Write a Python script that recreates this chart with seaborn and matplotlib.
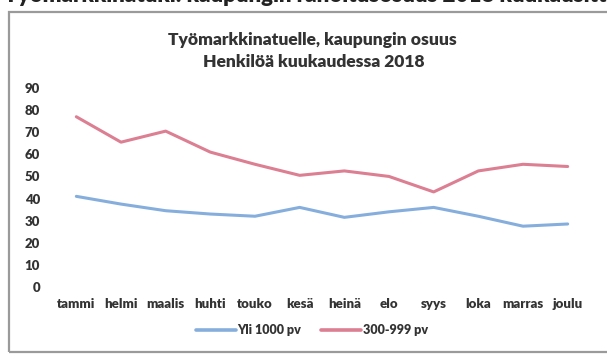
import matplotlib
matplotlib.use("Agg")
import matplotlib.pyplot as plt
from matplotlib.patches import Rectangle
from matplotlib.lines import Line2D
import seaborn as sns
import pandas as pd

months = ["tammi", "helmi", "maalis", "huhti", "touko", "kesä",
          "heinä", "elo", "syys", "loka", "marras", "joulu"]
yli_1000 = [41, 37.5, 34.5, 33, 32, 36, 31.5, 34, 36, 32, 27.5, 28.5]
v300_999 = [77, 65.5, 70.5, 61, 55.5, 50.5, 52.5, 50, 43, 52.5, 55.5, 54.5]
series_names = ["Yli 1000 pv", "300-999 pv"]
colors = ["#86aedd", "#dc7f92"]
yticks = list(range(0, 100, 10))

df = pd.DataFrame({
    "kuukausi": months * 2,
    "arvo": yli_1000 + v300_999,
    "sarja": [series_names[0]] * len(months) + [series_names[1]] * len(months),
})
df["pos"] = list(range(len(months))) * 2

sns.set_theme(style="white")
plt.rcParams["font.family"] = ["Lato", "DejaVu Sans"]

W, H = 607, 357
fig = plt.figure(figsize=(W / 100, H / 100), dpi=100)
fig.patch.set_facecolor("white")

ax = fig.add_axes([54 / W, 1 - 287 / H, (590 - 54) / W, (287 - 88) / H])
sns.lineplot(data=df, x="pos", y="arvo", hue="sarja", palette=colors,
             hue_order=series_names, linewidth=2.2, ax=ax, legend=False)

ax.set_xlim(-0.5, len(months) - 0.5)
ax.set_ylim(0, 90)
ax.set_xticks(range(len(months)))
ax.set_xticklabels(months)
ax.set_yticks(yticks)
ax.set_yticklabels([str(t) for t in yticks])
ax.set_xlabel("")
ax.set_ylabel("")
for s in ax.spines.values():
    s.set_visible(False)
ax.tick_params(axis="both", length=0, labelsize=9.5, colors="#333333")
ax.tick_params(axis="x", pad=8)
ax.tick_params(axis="y", pad=10)
for lab in ax.get_xticklabels() + ax.get_yticklabels():
    lab.set_fontweight("heavy")

# chart titles
fig.text(312 / W, 1 - 40 / H, "Työmarkkinatuelle, kaupungin osuus",
         ha="center", va="center", fontsize=12.5, fontweight="heavy", color="#333333")
fig.text(314 / W, 1 - 62 / H, "Henkilöä kuukaudessa 2018",
         ha="center", va="center", fontsize=12.5, fontweight="heavy", color="#333333")

# heading of the page above the chart box
fig.text(4 / W, 1 + 5 / H, "Työmarkkinatuki: kaupungin rahoitusosuus 2018 kuukausittain",
         ha="left", va="center", fontsize=16, fontweight="heavy", color="#222222")

# chart box border
fig.add_artist(Rectangle((9 / W, 1 - 352 / H), 620 / W, (352 - 12) / H,
                         transform=fig.transFigure, fill=False,
                         edgecolor="#9a9a9a", linewidth=1.6))

handles = [Line2D([0], [0], color=c, linewidth=2.6) for c in colors]
leg = fig.legend(handles, series_names, loc="center", bbox_to_anchor=(312 / W, 1 - 330 / H),
                 ncol=2, frameon=False, handlelength=3.2, handletextpad=0.1,
                 columnspacing=1.6, prop={"size": 9, "weight": "heavy"})
for t in leg.get_texts():
    t.set_color("#333333")

fig.savefig("out.png", dpi=100, facecolor="white")
